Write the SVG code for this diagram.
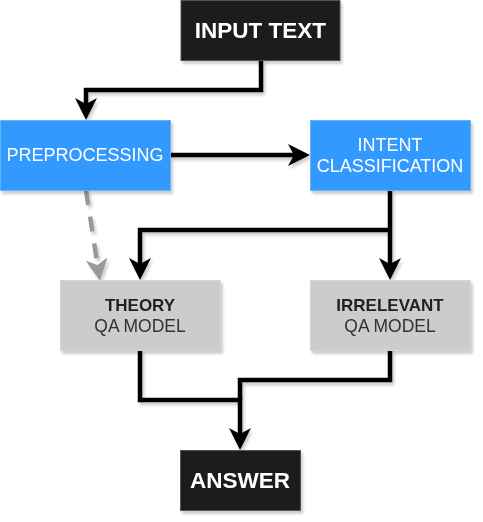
<svg xmlns="http://www.w3.org/2000/svg" width="483" height="522" viewBox="0 0 483 522">
<style>
.dark{fill:#1e1e1e;stroke:#555;stroke-width:1}
.blue{fill:#3399ff;stroke:#66b3ff;stroke-width:1}
.gray{fill:#cccccc;stroke:#d6d6d6;stroke-width:1}
.t{font-family:"Liberation Sans",Arial,sans-serif;text-anchor:middle;dominant-baseline:central}
.wb{fill:#fff;font-weight:bold;font-size:22.5px}
.w{fill:#fff;font-size:18px}
.gb{fill:#222;font-weight:bold;font-size:17px}
.g{fill:#333;font-size:17.5px}
.c{fill:none;stroke:#000;stroke-width:4.5}
.d{fill:none;stroke:#999;stroke-width:4.5;stroke-dasharray:15 12}
</style>
<defs>
<filter id="sh" x="-20%" y="-20%" width="140%" height="140%">
<feGaussianBlur in="SourceAlpha" stdDeviation="1.5"/>
<feOffset dx="2" dy="3" result="o"/>
<feComponentTransfer><feFuncA type="linear" slope="0.2"/></feComponentTransfer>
<feMerge><feMergeNode/><feMergeNode in="SourceGraphic"/></feMerge>
</filter>
<marker id="ab" markerUnits="userSpaceOnUse" markerWidth="24" markerHeight="24" refX="6" refY="11" orient="auto" viewBox="0 0 24 24">
<path d="M0,0 L22,11 L0,22 L6,11 Z" fill="#000"/>
</marker>
<marker id="ag" markerUnits="userSpaceOnUse" markerWidth="24" markerHeight="24" refX="6" refY="11" orient="auto" viewBox="0 0 24 24">
<path d="M0,0 L22,11 L0,22 L6,11 Z" fill="#999"/>
</marker>
</defs>
<g id="connectors" filter="url(#sh)">
<path class="c" d="M261,60 V90 H86 V104" marker-end="url(#ab)"/>
<path class="c" d="M170,155 H294" marker-end="url(#ab)"/>
<path class="c" d="M390,190 V264" marker-end="url(#ab)"/>
<path class="c" d="M390,230 H140 V264" marker-end="url(#ab)"/>
<path class="d" d="M86,190 L97.5,265" marker-end="url(#ag)"/>
<path class="c" d="M140,350 V400 H240 V434" marker-end="url(#ab)"/>
<path class="c" d="M390,350 V380 H240 V400"/>
</g>
<g id="input-text" filter="url(#sh)">
<rect class="dark" x="181" y="0.5" width="159" height="60"/>
<text class="t wb" x="260.5" y="30">INPUT TEXT</text>
</g>
<g id="preprocessing" filter="url(#sh)">
<rect class="blue" x="0.5" y="120.5" width="170" height="70"/>
<text class="t w" x="85" y="155">PREPROCESSING</text>
</g>
<g id="intent-classification" filter="url(#sh)">
<rect class="blue" x="310.5" y="120.5" width="160" height="70"/>
<text class="t w" x="390" y="145">INTENT</text>
<text class="t w" x="390" y="166">CLASSIFICATION</text>
</g>
<g id="theory-qa" filter="url(#sh)">
<rect class="gray" x="60.5" y="280.5" width="160" height="70"/>
<text class="t gb" x="140" y="305">THEORY</text>
<text class="t g" x="140" y="326">QA MODEL</text>
</g>
<g id="irrelevant-qa" filter="url(#sh)">
<rect class="gray" x="310.5" y="280.5" width="160" height="70"/>
<text class="t gb" x="390" y="305">IRRELEVANT</text>
<text class="t g" x="390" y="326">QA MODEL</text>
</g>
<g id="answer" filter="url(#sh)">
<rect class="dark" x="180.5" y="450.5" width="120" height="60"/>
<text class="t wb" x="240" y="480">ANSWER</text>
</g>
</svg>
